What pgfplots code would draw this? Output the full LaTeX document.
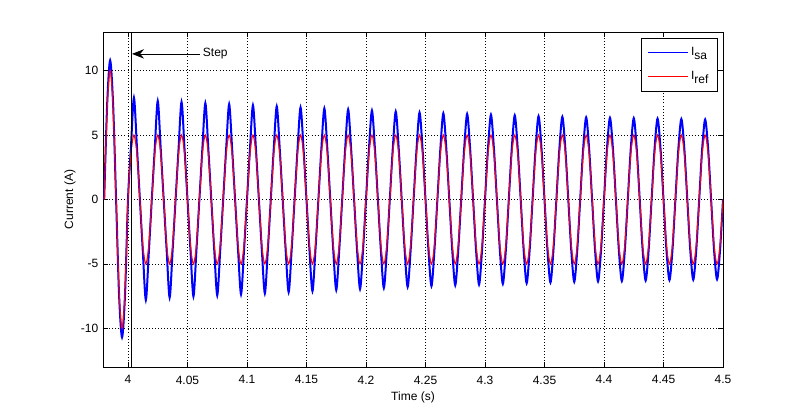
\documentclass[border=0pt]{standalone}
\usepackage{pgfplots}
\pgfplotsset{compat=1.18}
\usepackage{pgfplotstable}
\usepackage{fontspec}
\setmainfont{Liberation Sans}
\usetikzlibrary{arrows.meta}
\pgfplotstableread{
t r b
3.9800 0 0
3.9825 7.07 7.40
3.9850 10 10.80
3.9875 7.07 7.40
3.9900 0 0
3.9925 -7.07 -7.40
3.9950 -10 -10.70
3.9975 -7.07 -7.40
4.0000 0 0
4.0025 3.54 4.10
4.0050 5 7.90
4.0075 3.54 4.10
4.0100 0 0
4.0125 -3.54 -4.10
4.0150 -5 -7.80
4.0175 -3.54 -4.10
4.0200 0 0
4.0225 3.54 3.95
4.0250 5 7.65
4.0275 3.54 3.95
4.0300 0 0
4.0325 -3.54 -3.95
4.0350 -5 -7.61
4.0375 -3.54 -3.95
4.0400 0 0
4.0425 3.54 3.95
4.0450 5 7.57
4.0475 3.54 3.95
4.0500 0 0
4.0525 -3.54 -3.95
4.0550 -5 -7.52
4.0575 -3.54 -3.95
4.0600 0 0
4.0625 3.54 3.95
4.0650 5 7.48
4.0675 3.54 3.95
4.0700 0 0
4.0725 -3.54 -3.95
4.0750 -5 -7.44
4.0775 -3.54 -3.95
4.0800 0 0
4.0825 3.54 3.95
4.0850 5 7.40
4.0875 3.54 3.95
4.0900 0 0
4.0925 -3.54 -3.95
4.0950 -5 -7.36
4.0975 -3.54 -3.95
4.1000 0 0
4.1025 3.54 3.95
4.1050 5 7.32
4.1075 3.54 3.95
4.1100 0 0
4.1125 -3.54 -3.95
4.1150 -5 -7.28
4.1175 -3.54 -3.95
4.1200 0 0
4.1225 3.54 3.95
4.1250 5 7.23
4.1275 3.54 3.95
4.1300 0 0
4.1325 -3.54 -3.95
4.1350 -5 -7.19
4.1375 -3.54 -3.95
4.1400 0 0
4.1425 3.54 3.95
4.1450 5 7.15
4.1475 3.54 3.95
4.1500 0 0
4.1525 -3.54 -3.95
4.1550 -5 -7.11
4.1575 -3.54 -3.95
4.1600 0 0
4.1625 3.54 3.95
4.1650 5 7.07
4.1675 3.54 3.95
4.1700 0 0
4.1725 -3.54 -3.95
4.1750 -5 -7.03
4.1775 -3.54 -3.95
4.1800 0 0
4.1825 3.54 3.95
4.1850 5 6.99
4.1875 3.54 3.95
4.1900 0 0
4.1925 -3.54 -3.95
4.1950 -5 -6.95
4.1975 -3.54 -3.95
4.2000 0 0
4.2025 3.54 3.95
4.2050 5 6.91
4.2075 3.54 3.95
4.2100 0 0
4.2125 -3.54 -3.95
4.2150 -5 -6.87
4.2175 -3.54 -3.95
4.2200 0 0
4.2225 3.54 3.95
4.2250 5 6.83
4.2275 3.54 3.95
4.2300 0 0
4.2325 -3.54 -3.95
4.2350 -5 -6.79
4.2375 -3.54 -3.95
4.2400 0 0
4.2425 3.54 3.95
4.2450 5 6.75
4.2475 3.54 3.95
4.2500 0 0
4.2525 -3.54 -3.95
4.2550 -5 -6.72
4.2575 -3.54 -3.95
4.2600 0 0
4.2625 3.54 3.95
4.2650 5 6.69
4.2675 3.54 3.95
4.2700 0 0
4.2725 -3.54 -3.95
4.2750 -5 -6.66
4.2775 -3.54 -3.95
4.2800 0 0
4.2825 3.54 3.95
4.2850 5 6.64
4.2875 3.54 3.95
4.2900 0 0
4.2925 -3.54 -3.95
4.2950 -5 -6.61
4.2975 -3.54 -3.95
4.3000 0 0
4.3025 3.54 3.95
4.3050 5 6.58
4.3075 3.54 3.95
4.3100 0 0
4.3125 -3.54 -3.95
4.3150 -5 -6.55
4.3175 -3.54 -3.95
4.3200 0 0
4.3225 3.54 3.95
4.3250 5 6.53
4.3275 3.54 3.95
4.3300 0 0
4.3325 -3.54 -3.95
4.3350 -5 -6.50
4.3375 -3.54 -3.95
4.3400 0 0
4.3425 3.54 3.95
4.3450 5 6.47
4.3475 3.54 3.95
4.3500 0 0
4.3525 -3.54 -3.95
4.3550 -5 -6.44
4.3575 -3.54 -3.95
4.3600 0 0
4.3625 3.54 3.95
4.3650 5 6.42
4.3675 3.54 3.95
4.3700 0 0
4.3725 -3.54 -3.95
4.3750 -5 -6.39
4.3775 -3.54 -3.95
4.3800 0 0
4.3825 3.54 3.95
4.3850 5 6.37
4.3875 3.54 3.95
4.3900 0 0
4.3925 -3.54 -3.95
4.3950 -5 -6.36
4.3975 -3.54 -3.95
4.4000 0 0
4.4025 3.54 3.95
4.4050 5 6.34
4.4075 3.54 3.95
4.4100 0 0
4.4125 -3.54 -3.95
4.4150 -5 -6.33
4.4175 -3.54 -3.95
4.4200 0 0
4.4225 3.54 3.95
4.4250 5 6.31
4.4275 3.54 3.95
4.4300 0 0
4.4325 -3.54 -3.95
4.4350 -5 -6.29
4.4375 -3.54 -3.95
4.4400 0 0
4.4425 3.54 3.95
4.4450 5 6.28
4.4475 3.54 3.95
4.4500 0 0
4.4525 -3.54 -3.95
4.4550 -5 -6.26
4.4575 -3.54 -3.95
4.4600 0 0
4.4625 3.54 3.95
4.4650 5 6.25
4.4675 3.54 3.95
4.4700 0 0
4.4725 -3.54 -3.95
4.4750 -5 -6.23
4.4775 -3.54 -3.95
4.4800 0 0
4.4825 3.54 3.95
4.4850 5 6.21
4.4875 3.54 3.95
4.4900 0 0
4.4925 -3.54 -3.95
4.4950 -5 -6.20
4.4975 -3.54 -3.95
4.5000 0 0
}\currents
\begin{document}
\begin{tikzpicture}
\begin{axis}[
  name=ax,
  scale only axis,
  width=465pt, height=251.25pt,
  xmin=3.979, xmax=4.5, ymin=-13, ymax=13,
  xtick={4,4.05,4.1,4.15,4.2,4.25,4.3,4.35,4.4,4.45,4.5},
  xticklabels={4,4.05,4.1,4.15,4.2,4.25,4.3,4.35,4.4,4.45,4.5},
  ytick={-10,-5,0,5,10},
  yticklabels={-10,-5,0,5,10},
  tick align=inside,
  tick pos=both,
  major tick length=3.5pt,
  every tick/.style={black, line width=0.5pt},
  axis line style={black, line width=0.5pt},
  grid=major,
  major grid style={black, line width=0.5pt, dash pattern=on 0.6pt off 1.7pt},
  tick label style={font=\fontsize{9}{10}\selectfont},
  xticklabel style={yshift=-3pt},
  xlabel={Time (s)},
  ylabel={Current (A)},
  label style={font=\fontsize{9}{10}\selectfont},
  xlabel style={at={(axis description cs:0.5,-0.0896)}, anchor=center},
  ylabel style={at={(axis description cs:-0.0532,0.5)}, anchor=center, rotate=0},
  legend style={draw=black, line width=0.5pt, fill=white,
    font=\fontsize{9}{10}\selectfont,
    at={(1,1)}, xshift=-3.75pt, yshift=-4.5pt, anchor=north east,
    inner xsep=5pt, inner ysep=5pt, row sep=6pt},
  legend cell align=left,
  legend image code/.code={\draw[#1, line width=0.5pt] (0pt,0pt) -- (30pt,0pt);},
]
\addplot[blue, line width=1.5pt, smooth] table[x=t, y=b] {\currents};
\addlegendentry{I\raisebox{-0.6ex}{\small sa}}
\addplot[red, line width=0.8pt, smooth] table[x=t, y=r] {\currents};
\addlegendentry{I\raisebox{-0.6ex}{\small ref}}
\addplot[black, line width=0.5pt, forget plot] coordinates {(4.0027,-13) (4.0027,13)};
\draw[black, line width=0.5pt, -{Stealth[length=9pt, width=7pt]}] (axis cs:4.0605,11.3) -- (axis cs:4.0034,11.3);
\node[anchor=west, inner sep=2pt, font=\fontsize{9}{10}\selectfont] at (axis cs:4.0605,11.3) {Step};
\end{axis}
\path (ax.south west) ++(-77.25pt,-35.25pt) rectangle ++(600pt,310.5pt);
\end{tikzpicture}
\end{document}
